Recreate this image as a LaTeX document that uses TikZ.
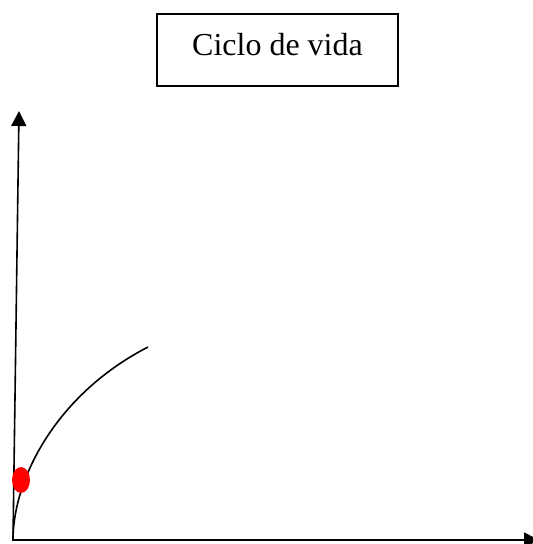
\documentclass[tikz,border=0pt]{standalone}
\usepackage{fontspec}
\setmainfont{Liberation Serif}
\usetikzlibrary{arrows.meta}

\begin{document}
\begin{tikzpicture}[x=1pt,y=-1pt,line width=1.6pt,
	axis/.style={-{Triangle[length=15pt,width=15pt]}},
	titlebox/.style={draw,line width=1.8pt,minimum width=241pt,inner xsep=0pt,inner ysep=0pt,
		text height=41pt,text depth=31pt,font=\fontsize{32}{38}\selectfont}]
			\useasboundingbox (0,0) rectangle (533,544);
			\node[titlebox] (title) at (277.5,50) {Ciclo de vida};
			\coordinate (origin) at (13,540);
			\coordinate (ytop) at (19,111);
			\coordinate (xend) at (539,540);
			\coordinate (curveend) at (148,347);
			\draw[axis] (origin) -- (ytop);
			\draw[axis] (12,540) -- (xend);
			\draw (origin) .. controls (13,480) and (55,395) .. (curveend);
			\fill[red] (21,480) ellipse (9 and 13);
		\end{tikzpicture}
\end{document}
